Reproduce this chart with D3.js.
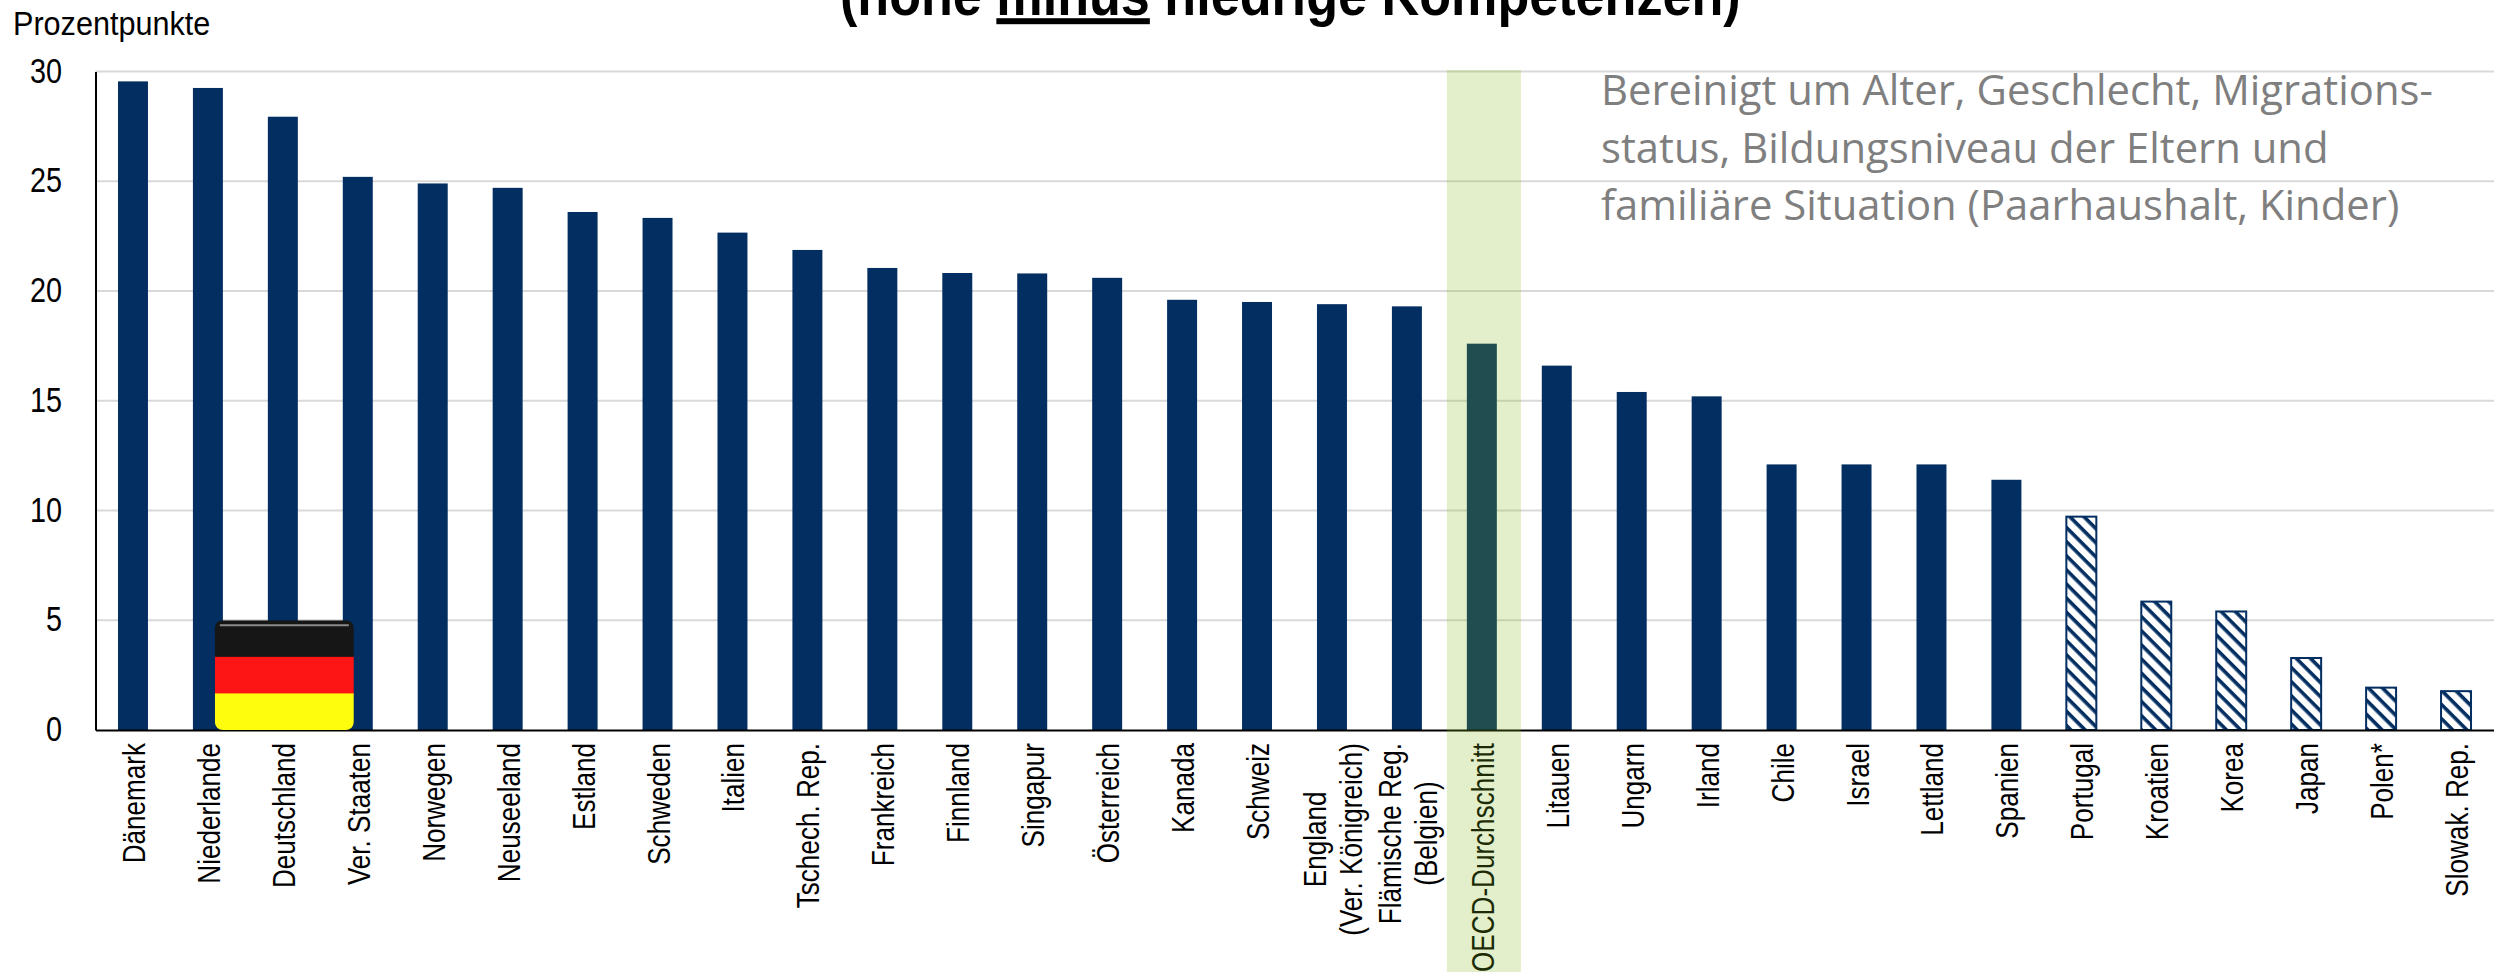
<!DOCTYPE html>
<html>
<head>
<meta charset="utf-8">
<script src="https://cdn.jsdelivr.net/npm/d3@7"></script>
<style>
	html, body { margin: 0; padding: 0; background: #fff; overflow: hidden; }
	text { font-family: "Liberation Sans", sans-serif; fill: #000; }
	.grid line { stroke: #d9d9d9; stroke-width: 2; }
	.cat { font-size: 32px; }
	.tick-label { font-size: 36px; }
	.title { font-weight: bold; font-size: 60px; }
	.note { font-family: "Open Sans", sans-serif; font-size: 41.8px; fill: #7f7f7f; }
</style>
</head>
<body>
<svg id="chart" width="2501" height="972"></svg>
<script>
// Skill premium by country
var categories = ["Dänemark", "Niederlande", "Deutschland", "Ver. Staaten", "Norwegen", "Neuseeland", "Estland", "Schweden",
	"Italien", "Tschech. Rep.", "Frankreich", "Finnland", "Singapur", "Österreich", "Kanada", "Schweiz",
	"England|(Ver. Königreich)", "Flämische Reg.|(Belgien)", "OECD-Durchschnitt", "Litauen", "Ungarn", "Irland", "Chile", "Israel",
	"Lettland", "Spanien", "Portugal", "Kroatien", "Korea", "Japan", "Polen*", "Slowak. Rep."];
var values = [29.55, 29.25, 27.94, 25.2, 24.9, 24.7, 23.6, 23.33,
	22.66, 21.87, 21.05, 20.82, 20.8, 20.6, 19.6, 19.5,
	19.4, 19.3, 17.6, 16.6, 15.4, 15.2, 12.1, 12.1,
	12.1, 11.4, 9.72, 5.85, 5.4, 3.28, 1.93, 1.77];
// not statistically significant, drawn hatched
var hatched = ["Portugal", "Kroatien", "Korea", "Japan", "Polen*", "Slowak. Rep."];
var yTicks = [0, 5, 10, 15, 20, 25, 30];
var noteLines = ["Bereinigt um Alter, Geschlecht, Migrations-", "status, Bildungsniveau der Eltern und", "familiäre Situation (Paarhaushalt, Kinder)"];

var navy = "#032e61";
var squeeze = 0.815;	// the source text is condensed Arial
var svg = d3.select("#chart");

var x = d3.scaleBand()
	.domain(categories)
	.range([95.5, 2493.5])
	.paddingInner(0.6)
	.paddingOuter(0.3);

var y = d3.scaleLinear()
	.domain([0, 30])
	.range([730, 71.5]);

var defs = svg.append("defs");
var hatch = defs.append("pattern")
	.attr("id", "hatch")
	.attr("patternUnits", "userSpaceOnUse")
	.attr("width", 10)
	.attr("height", 10)
	.attr("patternTransform", "rotate(45)");
hatch.append("rect").attr("width", 10).attr("height", 10).attr("fill", "#fff");
hatch.append("rect").attr("width", 10).attr("height", 3.6).attr("fill", navy);

// gridlines
svg.append("g")
	.attr("class", "grid")
	.selectAll("line")
	.data(yTicks.slice(1))
  .enter().append("line")
	.attr("x1", 95.5)
	.attr("x2", 2494)
	.attr("y1", function(d) { return y(d); })
	.attr("y2", function(d) { return y(d); });

// bars
svg.selectAll(".bar")
	.data(categories)
  .enter().append("rect")
	.attr("class", "bar")
	.attr("x", function(d) { return x(d); })
	.attr("width", x.bandwidth())
	.attr("y", function(d, i) { return y(values[i]); })
	.attr("height", function(d, i) { return y(0) - y(values[i]); })
	.attr("fill", function(d) { return hatched.indexOf(d) >= 0 ? "url(#hatch)" : navy; })
	.attr("stroke", function(d) { return hatched.indexOf(d) >= 0 ? navy : "none"; })
	.attr("stroke-width", 2);

// y axis
var yAxis = d3.axisLeft(y).tickValues(yTicks).tickSize(0);
var yG = svg.append("g").attr("transform", "translate(95.5,0)").call(yAxis);
yG.select(".domain").attr("stroke", "#000").attr("stroke-width", 2);
yG.selectAll("text")
	.attr("class", "tick-label")
	.attr("x", -33.5 / 0.8)
	.attr("y", -1)
	.attr("transform", "scale(0.8,1)");

// x axis baseline
var xAxis = d3.axisBottom(x).tickSize(0).tickFormat("");
var xG = svg.append("g").attr("transform", "translate(0," + y(0) + ")").call(xAxis);
xG.select(".domain").attr("stroke", "#000").attr("stroke-width", 2);

// category labels, rotated; two line ones are centred on their longer line
categories.forEach(function(name) {
	var parts = name.split("|");
	var cx = x(name) + x.bandwidth() / 2;
	var labels = parts.map(function(part, j) {
		var off = (j - (parts.length - 1) / 2) * 36;
		return svg.append("text")
			.attr("class", "cat")
			.attr("text-anchor", "middle")
			.attr("data-x", cx + off + 12)
			.text(part);
	});
	var longest = d3.max(labels, function(t) { return t.node().getComputedTextLength(); }) * squeeze;
	labels.forEach(function(t) {
		t.attr("transform", "translate(" + t.attr("data-x") + "," + (743 + longest / 2) + ") rotate(-90) scale(" + squeeze + ",1)")
			.attr("data-x", null);
	});
});

// OECD band sits on top of everything and tints it
svg.append("rect")
	.attr("x", x("OECD-Durchschnitt") + x.bandwidth() / 2 - 35)
	.attr("width", 74)
	.attr("y", 70)
	.attr("height", 902)
	.attr("fill", "rgb(127,184,20)")
	.attr("opacity", 0.226);

// flag
var flagX = x("Deutschland") + x.bandwidth() / 2 + 1.5;
var flagW = 139;
var flagClip = defs.append("clipPath").attr("id", "flagClip");
flagClip.append("rect")
	.attr("x", flagX - flagW / 2)
	.attr("width", flagW)
	.attr("y", y(5))
	.attr("height", y(0) - y(5))
	.attr("rx", 8);
var flagColors = ["#161616", "#fd1414", "#fdfd0d"];
var flagBand = d3.scaleBand().domain(d3.range(3)).range([y(5), y(0)]);
var flag = svg.append("g").attr("clip-path", "url(#flagClip)");
flag.selectAll(".stripe")
	.data(flagColors)
  .enter().append("rect")
	.attr("x", flagX - flagW / 2)
	.attr("width", flagW)
	.attr("y", function(d, i) { return flagBand(i); })
	.attr("height", flagBand.bandwidth() + 1)
	.attr("fill", function(d) { return d; });
flag.append("rect")
	.attr("x", flagX - flagW / 2 + 5)
	.attr("width", flagW - 10)
	.attr("y", y(5) + 4)
	.attr("height", 2)
	.attr("fill", "#8a8a8a");

svg.append("text")
	.attr("transform", "translate(13,35) scale(0.9,1)")
	.style("font-size", "34px")
	.text("Prozentpunkte");

// title is cut off by the top of the picture, same as the source
var title = svg.append("text")
	.attr("class", "title");
title.append("tspan").text("(hohe ");
title.append("tspan").style("text-decoration", "underline").text("minus");
title.append("tspan").text(" niedrige Kompetenzen)");
var titleScale = 901 / title.node().getComputedTextLength();
title.attr("transform", "translate(840,15) scale(" + titleScale + ",1)");

svg.selectAll(".note")
	.data(noteLines)
  .enter().append("text")
	.attr("class", "note")
	.attr("x", 1601)
	.attr("y", function(d, i) { return 105 + i * 57.5; })
	.text(function(d) { return d; });
</script>
</body>
</html>
